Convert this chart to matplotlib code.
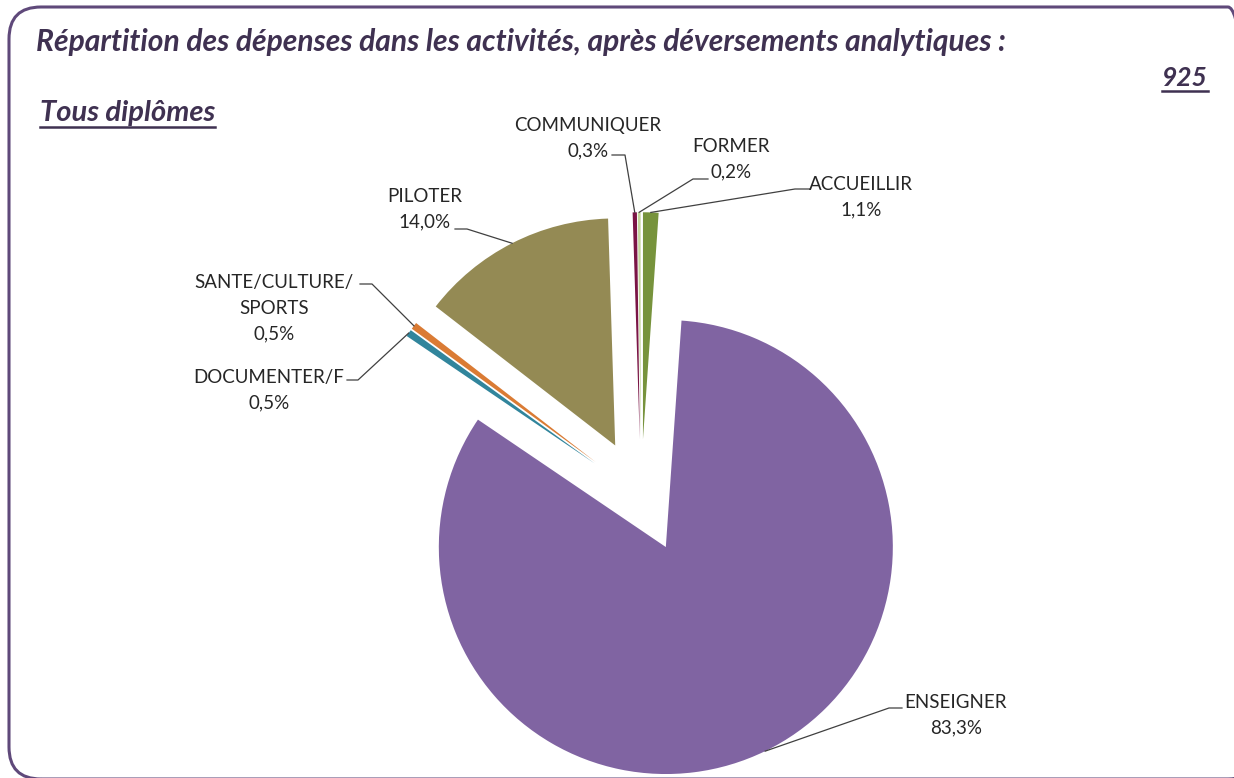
import numpy as np
import matplotlib
matplotlib.use("Agg")
import matplotlib.pyplot as plt
from matplotlib.patches import FancyBboxPatch
from matplotlib.lines import Line2D

# données
categories = ["ACCUEILLIR", "ENSEIGNER", "DOCUMENTER/F", "SANTE/CULTURE/\nSPORTS",
              "PILOTER", "COMMUNIQUER", "FORMER"]
valeurs = [1.1, 83.3, 0.5, 0.5, 14.0, 0.3, 0.2]
couleurs = ["#77933C", "#8064A2", "#31859C", "#DA7B34", "#948A54", "#7A1545", "#C3D69B"]
titre = "Répartition des dépenses dans les activités, après déversements analytiques :"
sous_titre = "Tous diplômes"
effectif = "925"

# mise en page (pixels)
W, H = 1234, 778
R = 227.0
CX, CY = 641, 496
coude = [(795, 189), (889, 708), (358, 380), (372, 284), (467, 229), (625, 155), (693, 179)]
bout = [(810, 189), (902, 708), (347, 380), (360, 284), (455, 229), (612, 155), (708, 179)]
pos_texte = [(861, 184), (956, 702), (269, 377), (274, 282), (425, 196), (588, 125), (731, 146)]
INTERLIGNE = 26

plt.rcParams['font.family'] = ['Lato', 'DejaVu Sans']

fig = plt.figure(figsize=(W / 100, H / 100), dpi=100)
fig.patch.set_facecolor("white")


def d(x, y):
    # pixels -> coordonnées du camembert
    return (x - CX) / R, (CY - y) / R


ax = fig.add_axes([0, 0, 1, 1])
wedges, _ = ax.pie(valeurs, colors=couleurs, startangle=90, counterclock=False,
                   explode=[0.25] * len(valeurs), radius=1,
                   wedgeprops=dict(linewidth=0))
ax.set_xlim(-CX / R, (W - CX) / R)
ax.set_ylim((CY - H) / R, CY / R)
ax.axis("off")

for i, w in enumerate(wedges):
    mid = np.deg2rad((w.theta1 + w.theta2) / 2)
    x0 = w.center[0] + w.r * np.cos(mid)
    y0 = w.center[1] + w.r * np.sin(mid)
    x1, y1 = d(*coude[i])
    x2, y2 = d(*bout[i])
    ax.plot([x0, x1, x2], [y0, y1, y2], color="#404040", lw=0.9)
    pct = f"{valeurs[i]:.1f}".replace(".", ",") + "%"
    lignes = categories[i].split("\n") + [pct]
    tx, ty = pos_texte[i]
    for k, l in enumerate(lignes):
        ax.text(*d(tx, ty + k * INTERLIGNE), l, ha="center", va="center",
                fontsize=13.5, color="#262626")

# cadre arrondi
cadre = FancyBboxPatch((9 / W, 1 - 779 / H), (1260 - 9) / W, (779 - 7) / H,
                       boxstyle="round,pad=0,rounding_size=%f" % (32 / W),
                       mutation_aspect=W / H,
                       transform=fig.transFigure, fill=False,
                       edgecolor="#5F497A", lw=2.2, clip_on=False)
fig.patches.append(cadre)

violet = "#3F3151"
t1 = fig.text(36 / W, 1 - 51 / H, titre, fontsize=21.6, fontweight="bold",
              style="italic", color=violet, va="baseline", ha="left")
t2 = fig.text(40 / W, 1 - 121 / H, sous_titre, fontsize=21, fontweight="bold",
              style="italic", color=violet, va="baseline", ha="left")
t3 = fig.text(1208 / W, 1 - 86 / H, effectif, fontsize=19, fontweight="bold",
              style="italic", color=violet, va="baseline", ha="right")

fig.canvas.draw()
ren = fig.canvas.get_renderer()
for t, yb in [(t2, 127), (t3, 91)]:
    bb = t.get_window_extent(ren)
    fig.add_artist(Line2D([bb.x0 / W, bb.x1 / W], [1 - yb / H, 1 - yb / H],
                          transform=fig.transFigure, color=violet, lw=1.8))

fig.savefig("out.png", dpi=100)
